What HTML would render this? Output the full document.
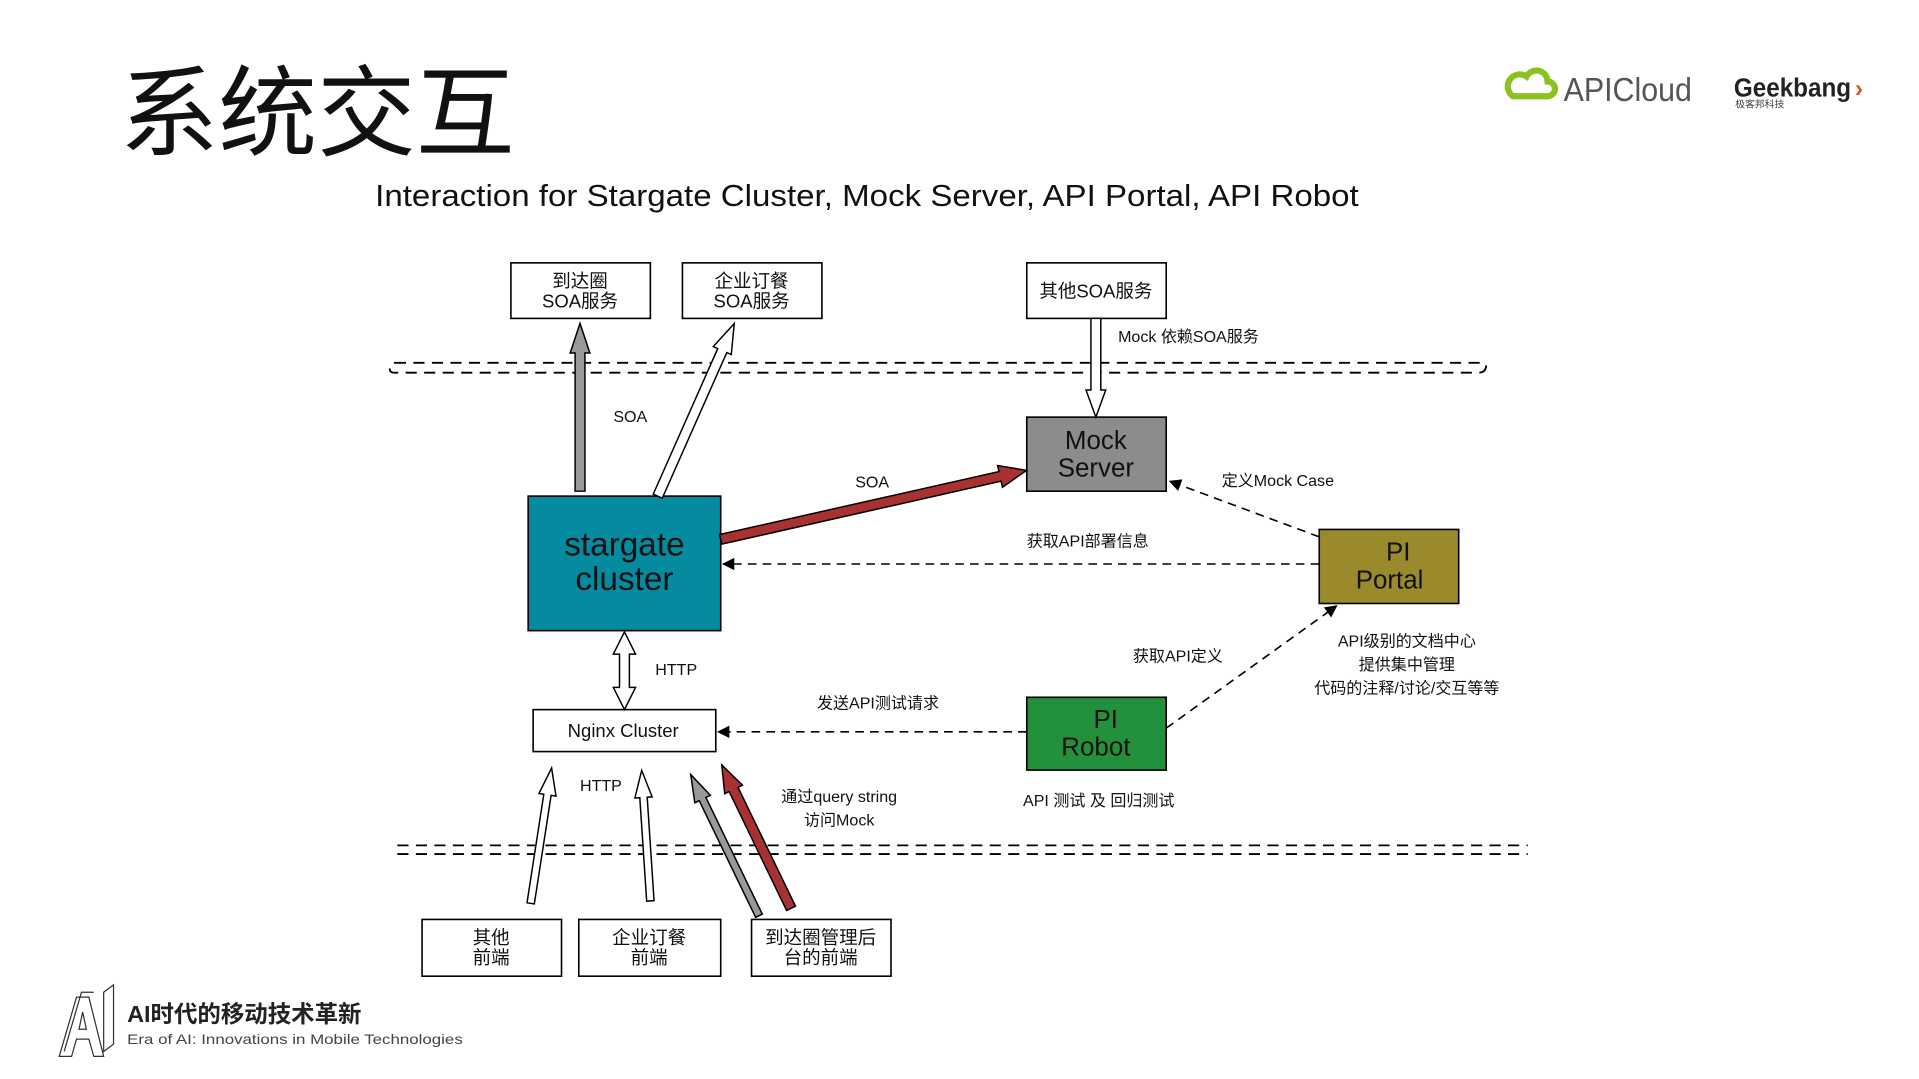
<!DOCTYPE html>
<html><head><meta charset="utf-8"><style>
html,body{margin:0;padding:0;background:#fff;overflow:hidden}
svg{display:block}
text{font-family:"Liberation Sans","Noto Sans CJK SC",sans-serif;fill:#111}
</style></head><body>
<svg width="1919" height="1079" viewBox="0 0 1555 874.3" preserveAspectRatio="none" xmlns="http://www.w3.org/2000/svg">
<defs>
<marker id="ah" markerWidth="10" markerHeight="10" refX="9" refY="5" orient="auto" markerUnits="userSpaceOnUse"><path d="M0,0 L10,5 L0,10 z" fill="#000"/></marker>
</defs>
<!-- title -->
<text x="97" y="120" font-size="80" style="font-family:'Noto Sans CJK SC',sans-serif">系统交互</text>
<text x="304" y="167" font-size="25" textLength="797" lengthAdjust="spacingAndGlyphs">Interaction for Stargate Cluster, Mock Server, API Portal, API Robot</text>
<!-- logos -->
<g fill="none" stroke="#8cc21f" stroke-width="5"><path d="M1226,78 h28 a6,6 0 0 0 0,-12 a9,9 0 0 0 -17,-4 a7,7 0 0 0 -11,16z"/></g>
<text x="1267" y="82" font-size="27" style="fill:#555" textLength="104" lengthAdjust="spacingAndGlyphs">APICloud</text>
<text x="1405" y="78" font-size="21" font-weight="bold" style="fill:#222" textLength="95" lengthAdjust="spacingAndGlyphs">Geekbang</text>
<text x="1503" y="78" font-size="20" font-weight="bold" style="fill:#e5532a">›</text>
<text x="1406" y="87" font-size="8" style="fill:#444">极客邦科技</text>

<!-- dashed double lines -->
<g fill="none" stroke="#000" stroke-width="1.5" stroke-dasharray="9,6">
<path d="M320,294 H1200 Q1205,294 1204,298 Q1203,302 1198,302 H320 Q315,302 316,298 Q317,294 320,294"/>
<line x1="322" y1="685" x2="1238" y2="685"/>
<line x1="322" y1="692" x2="1238" y2="692"/>
</g>

<!-- boxes -->
<g stroke="#000" stroke-width="1.3">
<rect x="414" y="213" width="113" height="45" fill="#fff"/>
<rect x="553" y="213" width="113" height="45" fill="#fff"/>
<rect x="832" y="213" width="113" height="45" fill="#fff"/>
<rect x="832" y="338" width="113" height="60" fill="#8c8c8c"/>
<rect x="428" y="402" width="156" height="109" fill="#048b9f"/>
<rect x="1069" y="429" width="113" height="60" fill="#9a8a2c"/>
<rect x="832" y="565" width="113" height="59" fill="#23903c"/>
<rect x="432" y="575" width="148" height="34" fill="#fff"/>
<rect x="342" y="745" width="113" height="46" fill="#fff"/>
<rect x="469" y="745" width="115" height="46" fill="#fff"/>
<rect x="609" y="745" width="113" height="46" fill="#fff"/>
</g>
<g font-size="15" text-anchor="middle">
<text x="470" y="233">到达圈</text><text x="470" y="249">SOA服务</text>
<text x="609" y="233">企业订餐</text><text x="609" y="249">SOA服务</text>
<text x="888" y="241">其他SOA服务</text>
<text x="505" y="597" font-size="15">Nginx Cluster</text>
<text x="398" y="765">其他</text><text x="398" y="781">前端</text>
<text x="526" y="765">企业订餐</text><text x="526" y="781">前端</text>
<text x="665" y="765">到达圈管理后</text><text x="665" y="781">台的前端</text>
<text x="888" y="364" font-size="21">Mock</text><text x="888" y="386" font-size="21">Server</text>
<text x="506" y="450" font-size="27">stargate</text><text x="506" y="478" font-size="27">cluster</text>
<text x="1133" y="454" font-size="21">PI</text><text x="1126" y="477" font-size="21">Portal</text>
<text x="896" y="590" font-size="21">PI</text><text x="888" y="612" font-size="21">Robot</text>
</g>

<!-- block arrows -->
<g stroke="#000" stroke-width="1.2">
<g transform="translate(470,398) rotate(-90)"><polygon fill="#999" points="0,-4 112,-4 112,-8 136,0 112,8 112,4 0,4"/></g>
<g transform="translate(533,402) rotate(-66.1)"><polygon fill="#fff" points="0,-4 129,-4 129,-8 153,0 129,8 129,4 0,4"/></g>
<g transform="translate(584,437) rotate(-12.7)"><polygon fill="#a83232" points="0,-4 232,-4 232,-9 254,0 232,9 232,4 0,4"/></g>
<g transform="translate(888,258) rotate(90)"><polygon fill="#fff" points="0,-4 58,-4 58,-8 80,0 58,8 58,4 0,4"/></g>
<g transform="translate(506,512) rotate(90)"><polygon fill="#fff" points="0,0 18,-9 18,-4 45,-4 45,-9 63,0 45,9 45,4 18,4 18,9"/></g>
<g transform="translate(430,732) rotate(-81.2)"><polygon fill="#fff" points="0,-3 89,-3 89,-7 111,0 89,7 89,3 0,3"/></g>
<g transform="translate(527,730) rotate(-93.8)"><polygon fill="#fff" points="0,-3 84,-3 84,-7 106,0 84,7 84,3 0,3"/></g>
<g transform="translate(615,742) rotate(-115.8)"><polygon fill="#999" points="0,-3 105,-3 105,-7 127,0 105,7 105,3 0,3"/></g>
<g transform="translate(641,736) rotate(-115.8)"><polygon fill="#a83232" points="0,-4 107,-4 107,-8 129,0 107,8 107,4 0,4"/></g>
</g>

<!-- dashed connectors -->
<g fill="none" stroke="#000" stroke-width="1.3" stroke-dasharray="7,5" marker-end="url(#ah)">
<line x1="1069" y1="435" x2="948" y2="390"/>
<line x1="1069" y1="457" x2="586" y2="457"/>
<line x1="945" y1="590" x2="1083" y2="491"/>
<line x1="832" y1="593" x2="582" y2="593"/>
</g>

<!-- labels -->
<g font-size="13">
<text x="497" y="342">SOA</text>
<text x="693" y="395">SOA</text>
<text x="906" y="277">Mock 依赖SOA服务</text>
<text x="990" y="394">定义Mock Case</text>
<text x="832" y="443">获取API部署信息</text>
<text x="918" y="536">获取API定义</text>
<text x="1140" y="524" text-anchor="middle">API级别的文档中心</text>
<text x="1140" y="543" text-anchor="middle">提供集中管理</text>
<text x="1140" y="562" text-anchor="middle">代码的注释/讨论/交互等等</text>
<text x="662" y="574">发送API测试请求</text>
<text x="531" y="547">HTTP</text>
<text x="470" y="641">HTTP</text>
<text x="680" y="650" text-anchor="middle">通过query string</text>
<text x="680" y="669" text-anchor="middle">访问Mock</text>
<text x="829" y="653">API 测试 及 回归测试</text>
</g>

<!-- footer -->
<g fill="none" stroke="#333" stroke-width="1">
<path d="M48,856 L62,808 L72,808 L84,856 L76,856 L72,842 L62,842 L58,856 Z"/>
<path d="M64,834 L70,834 L67,820 Z"/>
<path d="M52,852 L66,804 L76,804"/>
<path d="M84,804 L92,798 L92,846 L84,852 Z"/>
</g>
<text x="103" y="828" font-size="19" font-weight="bold" style="fill:#222">AI时代的移动技术革新</text>
<text x="103" y="846" font-size="11" style="fill:#444" textLength="272" lengthAdjust="spacingAndGlyphs">Era of AI: Innovations in Mobile Technologies</text>
</svg>
</body></html>
